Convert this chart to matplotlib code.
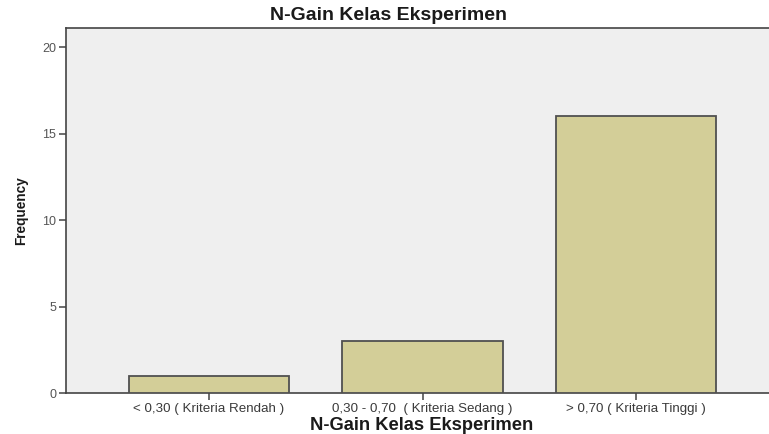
import matplotlib.pyplot as plt
import numpy as np

categories = [
    "< 0,30 ( Kriteria Rendah )",
    "0,30 - 0,70  ( Kriteria Sedang )",
    "> 0,70 ( Kriteria Tinggi )",
]
frequency = [1, 3, 16]
y_ticks = [0, 5, 10, 15, 20]
title = "N-Gain Kelas Eksperimen"

plt.rcParams["font.family"] = ["Liberation Sans", "DejaVu Sans"]

W, H = 769, 434
fig = plt.figure(figsize=(W / 100, H / 100), dpi=100)
fig.patch.set_facecolor("white")

# plot area runs a bit past the right edge of the image, like the source
left, right, top, bottom = 66, 779, 28, 393
ax = fig.add_axes([left / W, 1 - bottom / H, (right - left) / W, (bottom - top) / H])
ax.set_facecolor("#efefef")

x = np.arange(len(categories))
ax.bar(x, frequency, width=0.75, color="#d3ce98", edgecolor="#505050", linewidth=1.3, zorder=3)

ax.set_xlim(-0.67, 2.67)
ax.set_ylim(0, 21.1)
ax.set_xticks(x)
ax.set_xticklabels(categories, fontsize=9.6, color="#3a3a3a")
ax.set_yticks(y_ticks)
ax.set_yticklabels([str(v) for v in y_ticks], fontsize=9, color="#555555")
ax.tick_params(axis="both", direction="out", length=5, width=1.1, color="#444444", pad=2)

for side in ("left", "bottom", "top"):
    ax.spines[side].set_color("#444444")
    ax.spines[side].set_linewidth(1.2)
ax.spines["right"].set_visible(False)

fig.text(389 / W, 1 - 16 / H, title, ha="center", va="center",
         fontsize=14, fontweight="bold", color="#1a1a1a")
fig.text(422 / W, 1 - 425 / H, title, ha="center", va="center",
         fontsize=13.2, fontweight="bold", color="#1a1a1a")
fig.text(21 / W, 1 - 211 / H, "Frequency", ha="center", va="center", rotation=90,
         fontsize=9.8, fontweight="bold", color="#1a1a1a")

fig.savefig("out.png", dpi=100)
